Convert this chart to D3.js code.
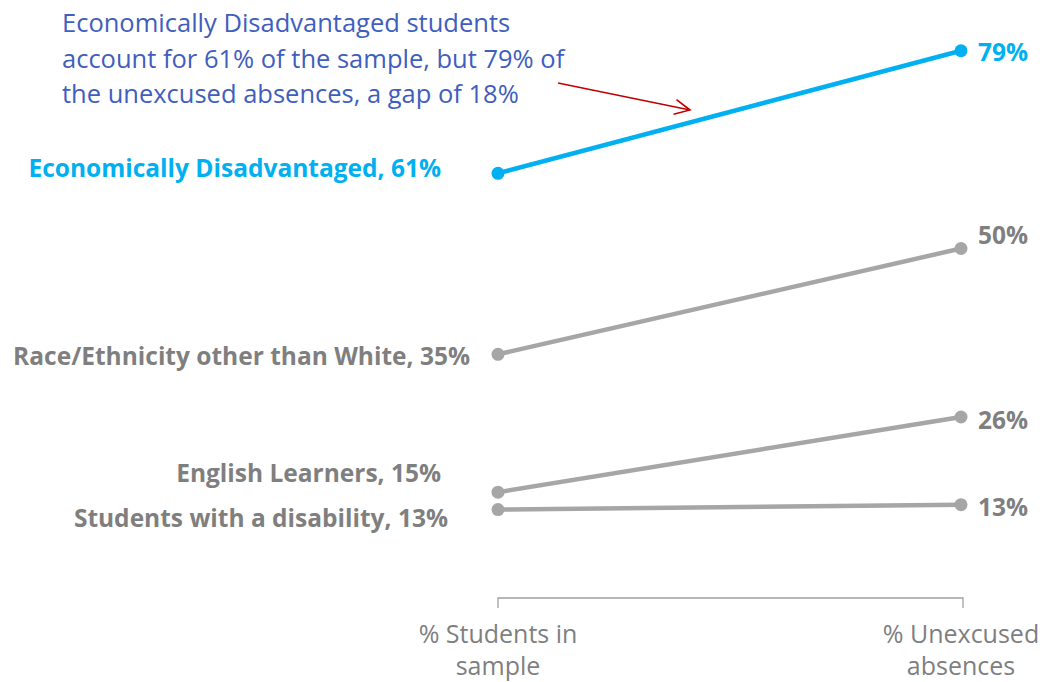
<!DOCTYPE html>
<html><head><meta charset="utf-8">
<script src="https://cdn.jsdelivr.net/npm/d3@7"></script>
<style>
html,body{margin:0;padding:0;background:#fff;}
svg{display:block;font-family:"Open Sans",Lato,sans-serif;}
</style></head>
<body><svg id="c" width="1045" height="682"></svg>
<script>
// ---- data ----
const categories = ["% Students in sample", "% Unexcused absences"];
const categoryLines = [["% Students in", "sample"], ["% Unexcused", "absences"]];
const groups = ["Economically Disadvantaged", "Race/Ethnicity other than White", "English Learners", "Students with a disability"];
const sampleShare = [61, 35, 15.2, 12.7];
const absenceShare = [78.6, 50.2, 26, 13.4];
const sampleLabels = ["61%", "35%", "15%", "13%"];
const absenceLabels = ["79%", "50%", "26%", "13%"];
const annotationLines = ["Economically Disadvantaged students", "account for 61% of the sample, but 79% of", "the unexcused absences, a gap of 18%"];

// ---- layout / style (not data) ----
const highlight = "#00b0f0", grey = "#a6a6a6", greyText = "#7f7f7f", noteBlue = "#3f5ebd", arrowRed = "#c00000";
const leftLabelNudge = [{dx:-57,dy:-5},{dx:-28,dy:2},{dx:-57,dy:-19},{dx:-50,dy:9}];
const rightLabelNudge = [{dy:2},{dy:-13},{dy:3},{dy:3}];
const boldSize = 24.5, noteSize = 25.5, axisSize = 25;

const svg = d3.select("#c");
const x = d3.scalePoint().domain(categories).range([498, 961]);
const y = d3.scaleLinear().domain([0, 80]).range([598, 41]);

// axis
const axis = d3.axisBottom(x).tickSize(10).tickFormat("");
const ag = svg.append("g").attr("transform", `translate(0,${y(0)})`).call(axis);
ag.select(".domain").attr("stroke", "#a0a0a0").attr("stroke-width", 1.3)
  .attr("d", `M${x(categories[0])},10V0H${x(categories[1])+2}V10`);
ag.selectAll(".tick line").remove();

categories.forEach((c, i) => {
  const t = svg.append("text").attr("x", x(c)).attr("y", 643).attr("text-anchor", "middle")
    .attr("fill", greyText).attr("font-size", axisSize);
  categoryLines[i].forEach((ln, j) => t.append("tspan").attr("x", x(c)).attr("dy", j ? 32 : 0).text(ln));
});

// lines (grey first, highlight on top)
const order = [3, 2, 1, 0];
order.forEach(i => {
  const col = i === 0 ? highlight : grey;
  const pts = [[categories[0], sampleShare[i]], [categories[1], absenceShare[i]]];
  svg.append("path").datum(pts)
    .attr("d", d3.line().x(d => x(d[0])).y(d => y(d[1])))
    .attr("stroke", col).attr("stroke-width", 4.5).attr("fill", "none");
  svg.selectAll(null).data(pts).enter().append("circle")
    .attr("cx", d => x(d[0])).attr("cy", d => y(d[1])).attr("r", 6.5).attr("fill", col);
  svg.append("text")
    .attr("x", x(categories[0]) + leftLabelNudge[i].dx).attr("y", y(sampleShare[i]) + leftLabelNudge[i].dy)
    .attr("dy", "0.35em").attr("text-anchor", "end").attr("font-weight", "bold").attr("font-size", boldSize)
    .attr("fill", i === 0 ? highlight : greyText)
    .text(groups[i] + ", " + sampleLabels[i]);
  svg.append("text")
    .attr("x", x(categories[1]) + 17).attr("y", y(absenceShare[i]) + rightLabelNudge[i].dy)
    .attr("dy", "0.35em").attr("font-weight", "bold").attr("font-size", boldSize)
    .attr("fill", i === 0 ? highlight : greyText)
    .text(absenceLabels[i]);
});

// annotation
const note = svg.append("text").attr("x", 62).attr("y", 32).attr("fill", noteBlue).attr("font-size", noteSize);
annotationLines.forEach((ln, j) => note.append("tspan").attr("x", 62).attr("dy", j ? 35.5 : 0).text(ln));

// arrow
const a0 = [558, 83], a1 = [690, 110];
svg.append("line").attr("x1", a0[0]).attr("y1", a0[1]).attr("x2", a1[0]).attr("y2", a1[1])
  .attr("stroke", arrowRed).attr("stroke-width", 1.6);
const ang = Math.atan2(a1[1]-a0[1], a1[0]-a0[0]), L = 17, spread = 0.45;
svg.append("path")
  .attr("d", `M${a1[0]-L*Math.cos(ang-spread)},${a1[1]-L*Math.sin(ang-spread)}L${a1[0]},${a1[1]}L${a1[0]-L*Math.cos(ang+spread)},${a1[1]-L*Math.sin(ang+spread)}`)
  .attr("stroke", arrowRed).attr("stroke-width", 1.6).attr("fill", "none");
</script></body></html>
